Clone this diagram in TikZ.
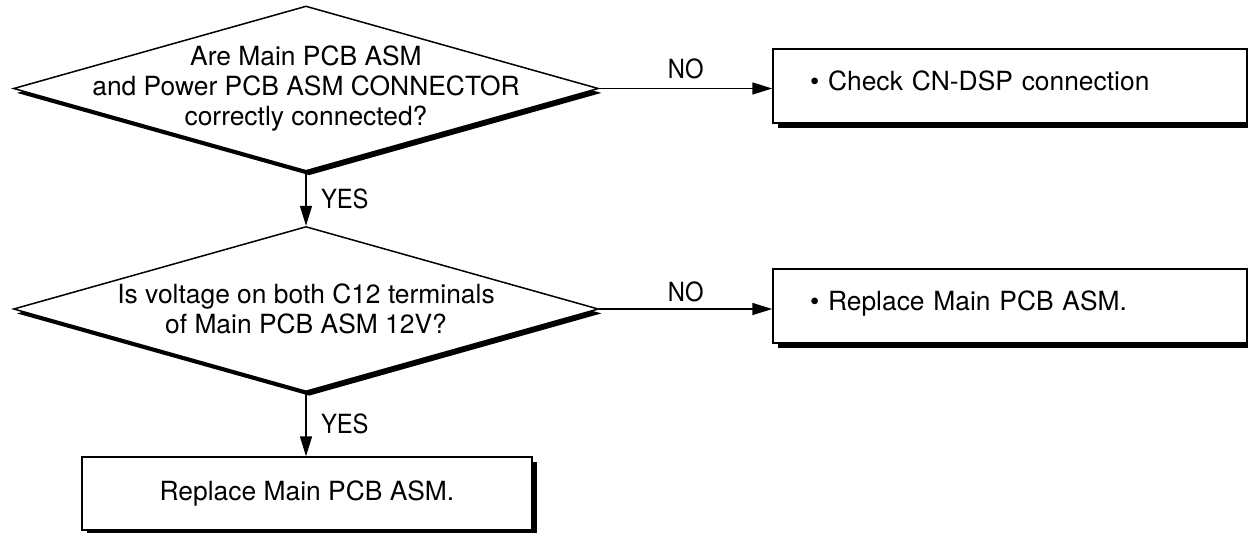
\documentclass[tikz,border=0pt]{standalone}
\usepackage{fontspec}
\setmainfont{TeX Gyre Heros}
\newfontfamily\labelfont[FakeStretch=0.9]{TeX Gyre Heros}
\usetikzlibrary{shapes.geometric}
\usetikzlibrary{shadows}
\usetikzlibrary{arrows.meta}

\begin{document}
\begin{tikzpicture}[x=0.5pt, y=-0.5pt, font=\fontsize{13.2}{15}\selectfont]
            \tikzstyle{decision} = [diamond, draw, line width=0.75pt, fill=white, inner sep=0pt,
                minimum width=292.5pt, minimum height=82.5pt,
                drop shadow={shadow xshift=1.6pt, shadow yshift=-2.2pt, opacity=1, fill=black}]
            \tikzstyle{action} = [rectangle, draw, line width=0.75pt, fill=white,
                minimum width=237pt, minimum height=37pt, text width=200pt, inner xsep=18.5pt,
                align=left, text height=9.5pt, text depth=5.5pt,
                drop shadow={shadow xshift=2.5pt, shadow yshift=-2.4pt, opacity=1, fill=black}]
            \tikzstyle{fix} = [action, minimum width=225pt, minimum height=36.5pt, text width=,
                inner xsep=4pt, align=center, text depth=3pt]
            \tikzstyle{flow} = [line width=0.75pt, -{Triangle[length=10pt, width=6pt]}]
            \tikzstyle{answer} = [font=\fontsize{13.2}{15}\labelfont]
            \useasboundingbox (0, 0) rectangle (1248, 532);
            % first question
            \node[decision] (q1) at (306, 88.5) {};
            \node[align=center] (q1text) at (q1.center)
                {Are Main PCB ASM\\and Power PCB ASM CONNECTOR\\correctly connected?};
            \node[action] (a1) at (1010, 86) {\textbullet\ Check CN-DSP connection};
            % second question
            \node[decision] (q2) at (306, 309) {};
            \node[align=center] (q2text) at (q2.center)
                {Is voltage on both C12 terminals\\of Main PCB ASM 12V?};
            \node[action] (a2) at (1010, 306) {\textbullet\ Replace Main PCB ASM.};
            \node[fix] (a3) at (307, 493.5) {Replace Main PCB ASM.};
            % connectors
            \draw[flow] (q1.east) -- (q1.east -| a1.west) node[answer, midway, above=1.3pt] {NO};
            \draw[flow] (q1.south) -- (q2.north) node[answer, midway, right=3.8pt] {YES};
            \draw[flow] (q2.east) -- (q2.east -| a2.west) node[answer, midway, above=0pt] {NO};
            \draw[flow] (q2.south) -- (q2.south |- a3.north) node[answer, midway, right=3.8pt] {YES};
        \end{tikzpicture}
\end{document}
